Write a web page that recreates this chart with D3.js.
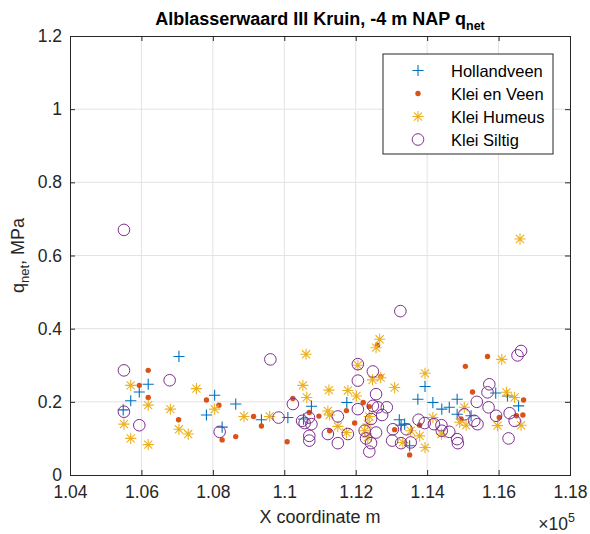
<!DOCTYPE html>
<html>
<head>
<meta charset="utf-8">
<script src="https://cdn.jsdelivr.net/npm/d3@7"></script>
<style>
  html, body { margin: 0; padding: 0; background: #ffffff; }
  svg { display: block; font-family: "Liberation Sans", Arial, Helvetica, sans-serif; }
</style>
</head>
<body>
<svg id="chart" width="590" height="534"></svg>
<script>
// q_net at -4 m NAP along the Alblasserwaard III crest, by soil type.
// Each point: [X coordinate (m), q_net (MPa)]
const hollandveen = [
  [105490,0.178],[105700,0.203],[105940,0.227],[106190,0.248],[107050,0.324],
  [107820,0.164],[108050,0.218],[108260,0.131],[108640,0.194],[109360,0.151],
  [110100,0.157],[110540,0.153],[110760,0.188],[111750,0.198],[113220,0.151],
  [113270,0.136],[113370,0.139],[113510,0.080],[113740,0.207],[113940,0.242],
  [114160,0.198],[114410,0.180],[114620,0.185],[114840,0.207],[114840,0.166],
  [115230,0.162],[115920,0.224],[116250,0.216],[116560,0.189]
];
const kleiEnVeen = [
  [106190,0.286],[105940,0.245],[106190,0.212],[107040,0.151],[107820,0.205],
  [108170,0.191],[108260,0.096],[108640,0.105],[109140,0.160],[109360,0.134],
  [110080,0.091],[110240,0.209],[110700,0.171],[110970,0.161],[111270,0.121],
  [111740,0.176],[111970,0.142],[112210,0.198],[112380,0.187],[112610,0.355],
  [112700,0.269],[113090,0.124],[113510,0.055],[113790,0.136],[114950,0.153],
  [115070,0.297],[115270,0.227],[115690,0.324],[116020,0.157],[116500,0.162],
  [116680,0.164],[116700,0.205]
];
const kleiHumeus = [
  [105510,0.139],[105700,0.245],[105700,0.100],[106190,0.191],[106190,0.083],
  [106810,0.180],[107050,0.125],[107310,0.112],[107540,0.236],[108050,0.180],
  [108870,0.160],[109590,0.160],[110520,0.245],[110610,0.330],[110630,0.212],
  [111250,0.232],[111220,0.175],[111270,0.164],[111500,0.133],[111740,0.116],
  [111780,0.231],[112020,0.216],[112060,0.300],[112340,0.139],[112250,0.121],
  [112340,0.103],[112380,0.160],[112470,0.260],[112570,0.348],[112670,0.371],
  [112700,0.266],[113090,0.239],[113320,0.089],[113540,0.121],[113790,0.107],
  [113940,0.075],[113940,0.278],[114160,0.157],[114400,0.112],[114910,0.144],
  [115040,0.185],[115090,0.136],[115970,0.135],[116090,0.316],[116220,0.226],
  [116450,0.212],[116630,0.136],[116600,0.645]
];
const kleiSiltig = [
  [105510,0.670],[105510,0.286],[105510,0.173],[105940,0.136],[106790,0.259],
  [108190,0.118],[109610,0.316],[109840,0.157],[110240,0.194],[110500,0.148],
  [110570,0.142],[110690,0.157],[110700,0.107],[110700,0.094],[110760,0.139],
  [111220,0.112],[111500,0.160],[111500,0.087],[111780,0.112],[112060,0.303],
  [112060,0.258],[112060,0.180],[112250,0.121],[112290,0.100],[112380,0.064],
  [112430,0.087],[112480,0.283],[112480,0.189],[112430,0.153],[112570,0.221],
  [112620,0.185],[112740,0.164],[112870,0.185],[112570,0.116],[113040,0.125],
  [113020,0.094],[113250,0.448],[113270,0.087],[113420,0.125],[113540,0.089],
  [113760,0.151],[113930,0.142],[114190,0.139],[114400,0.136],[114410,0.121],
  [114620,0.118],[114840,0.098],[114860,0.087],[115040,0.166],[115320,0.148],
  [115390,0.200],[115410,0.139],[115720,0.185],[115740,0.248],[115690,0.226],
  [115930,0.162],[116280,0.100],[116310,0.169],[116450,0.148],[116530,0.327],
  [116630,0.339]
];

const seriesNames = ["Hollandveen", "Klei en Veen", "Klei Humeus", "Klei Siltig"];
const xTicks = [104000,106000,108000,110000,112000,114000,116000,118000];
const yTicks = [0,0.2,0.4,0.6,0.8,1,1.2];

const m = { left: 70, right: 570, top: 36, bottom: 475 };
const axisColor = "#262626";
const gridColor = "#e3e3e3";
const tickFont = 17.5, labelFont = 18, titleFont = 18, legendFont = 16.5;

const svg = d3.select("#chart");

const x = d3.scaleLinear().domain([104000, 118000]).range([m.left, m.right]);
const y = d3.scaleLinear().domain([0, 1.2]).range([m.bottom, m.top]);

// grid
const grid = svg.append("g");
grid.selectAll("line.gx").data(xTicks.slice(1, -1)).join("line")
  .attr("x1", d => x(d)).attr("x2", d => x(d))
  .attr("y1", m.top).attr("y2", m.bottom)
  .attr("stroke", gridColor).attr("stroke-width", 1);
grid.selectAll("line.gy").data(yTicks.slice(1, -1)).join("line")
  .attr("y1", d => y(d)).attr("y2", d => y(d))
  .attr("x1", m.left).attr("x2", m.right)
  .attr("stroke", gridColor).attr("stroke-width", 1);

// markers
function markerPath(kind, s) {
  if (kind === "plus") return `M${-s},0H${s}M0,${-s}V${s}`;
  if (kind === "star") {
    const d = s * 0.72;
    return `M${-s},0H${s}M0,${-s}V${s}M${-d},${-d}L${d},${d}M${-d},${d}L${d},${-d}`;
  }
  return "";
}
const styles = [
  { name: seriesNames[0], data: hollandveen, kind: "plus",   color: "#0072BD" },
  { name: seriesNames[1], data: kleiEnVeen,  kind: "dot",    color: "#D95319" },
  { name: seriesNames[2], data: kleiHumeus,  kind: "star",   color: "#EDB120" },
  { name: seriesNames[3], data: kleiSiltig,  kind: "circle", color: "#7E2F8E" }
];

function drawMarker(sel, st) {
  if (st.kind === "dot") {
    sel.append("circle").attr("r", 2.7).attr("fill", st.color);
  } else if (st.kind === "circle") {
    sel.append("circle").attr("r", 5.8).attr("fill", "none")
      .attr("stroke", st.color).attr("stroke-width", 1);
  } else {
    sel.append("path").attr("d", markerPath(st.kind, 5.6))
      .attr("fill", "none").attr("stroke", st.color).attr("stroke-width", 1.1);
  }
}

const plot = svg.append("g");
styles.forEach(st => {
  const g = plot.append("g");
  g.selectAll("g").data(st.data).join("g")
    .attr("transform", d => `translate(${x(d[0])},${y(d[1])})`)
    .each(function () { drawMarker(d3.select(this), st); });
});

// axes (box with ticks on all four sides, pointing inward)
const tickLen = 5;
const fmtX = d => d3.format("")(+(d / 1e5).toFixed(2));
const xAxisB = d3.axisBottom(x).tickValues(xTicks).tickSize(-tickLen).tickPadding(11).tickFormat(fmtX);
const xAxisT = d3.axisTop(x).tickValues(xTicks).tickSize(-tickLen).tickFormat("");
const yAxisL = d3.axisLeft(y).tickValues(yTicks).tickSize(-tickLen).tickPadding(8).tickFormat(d => d3.format("")(d));
const yAxisR = d3.axisRight(y).tickValues(yTicks).tickSize(-tickLen).tickFormat("");

function styleAxis(g) {
  g.selectAll("path.domain").attr("stroke", axisColor).attr("stroke-width", 1);
  g.selectAll(".tick line").attr("stroke", axisColor);
  g.selectAll(".tick text").attr("fill", axisColor).attr("font-size", tickFont)
    .attr("font-family", "'Liberation Sans', Arial, sans-serif");
}
svg.append("g").attr("transform", `translate(0,${m.bottom})`).call(xAxisB).call(styleAxis);
svg.append("g").attr("transform", `translate(0,${m.top})`).call(xAxisT).call(styleAxis);
svg.append("g").attr("transform", `translate(${m.left},0)`).call(yAxisL).call(styleAxis);
svg.append("g").attr("transform", `translate(${m.right},0)`).call(yAxisR).call(styleAxis);

// exponent label
const expo = svg.append("text").attr("x", 575).attr("y", 530)
  .attr("text-anchor", "end").attr("font-size", tickFont).attr("fill", axisColor);
expo.append("tspan").text("\u00d710");
expo.append("tspan").attr("dy", -8).attr("font-size", 12.5).text("5");

// axis labels
svg.append("text").attr("x", (m.left + m.right) / 2).attr("y", 523)
  .attr("text-anchor", "middle").attr("font-size", labelFont).attr("fill", axisColor)
  .text("X coordinate m");

const yl = svg.append("text")
  .attr("transform", `translate(24,${(m.top + m.bottom) / 2}) rotate(-90)`)
  .attr("text-anchor", "middle").attr("font-size", labelFont).attr("fill", axisColor);
yl.append("tspan").text("q");
yl.append("tspan").attr("dy", 5).attr("font-size", 13).text("net");
yl.append("tspan").attr("dy", -5).text(", MPa");

// title
const t = svg.append("text").attr("x", (m.left + m.right) / 2).attr("y", 25)
  .attr("text-anchor", "middle").attr("font-size", titleFont).attr("font-weight", "bold")
  .attr("fill", "#000");
t.append("tspan").text("Alblasserwaard III Kruin, -4 m NAP q");
t.append("tspan").attr("dy", 5).attr("font-size", 12.5).text("net");

// legend
const lg = svg.append("g");
lg.append("rect").attr("x", 383).attr("y", 54).attr("width", 170).attr("height", 100)
  .attr("fill", "#fff").attr("stroke", axisColor).attr("stroke-width", 1);
styles.forEach((st, i) => {
  const cy = 70.5 + i * 23;
  const g = lg.append("g").attr("transform", `translate(418,${cy})`);
  drawMarker(g, st);
  lg.append("text").attr("x", 451).attr("y", cy + 6).attr("font-size", legendFont)
    .attr("fill", "#000").text(st.name);
});
</script>
</body>
</html>
